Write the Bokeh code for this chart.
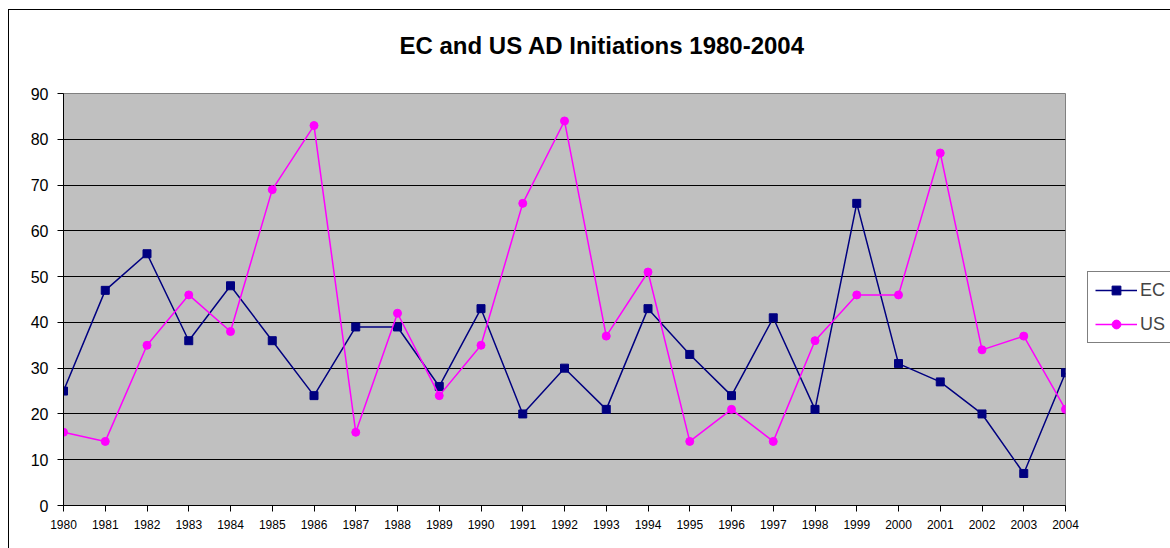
from bokeh.plotting import figure
from bokeh.models import Range1d, FixedTicker, Legend, LegendItem, Title
from bokeh.embed import file_html
from bokeh.resources import INLINE

years = list(range(1980, 2005))
ec = [25, 47, 55, 36, 48, 36, 24, 39, 39, 26, 43, 20, 30, 21, 43, 33, 24, 41, 21, 66, 31, 27, 20, 7, 29]
us = [16, 14, 35, 46, 38, 69, 83, 16, 42, 24, 35, 66, 84, 37, 51, 14, 21, 14, 36, 46, 46, 77, 34, 37, 21]
y_ticks = list(range(0, 100, 10))
title_text = "EC and US AD Initiations 1980-2004"

FONT = "Liberation Sans"

p = figure(width=1161, height=538, output_backend="svg", toolbar_location=None,
           x_range=Range1d(1980, 2004), y_range=Range1d(0, 90),
           min_border_left=54, min_border_right=105, min_border_top=83, min_border_bottom=43,
           background_fill_color="#C0C0C0", border_fill_color="white")
p.frame_width = 1002
p.frame_height = 412
p.styles = {"margin-left": "8px", "margin-top": "9px",
            "border-left": "1px solid black", "border-top": "1px solid black"}

p.title.text = ""

# a blank title next to the frame makes room below the visible one
spacer = Title(text=" ", text_font_size="1px", standoff=32)
p.add_layout(spacer, "above")
main_title = Title(text=title_text, text_font=FONT, text_font_style="bold",
                   text_font_size="24px", align="left", offset=336, standoff=0,
                   text_color="black")
p.add_layout(main_title, "above")

p.outline_line_color = "#808080"
p.outline_line_width = 1

p.xgrid.grid_line_color = None
p.ygrid.grid_line_color = "black"
p.ygrid.grid_line_width = 1

p.xaxis.ticker = FixedTicker(ticks=years)
p.yaxis.ticker = FixedTicker(ticks=y_ticks)
for ax in (p.xaxis, p.yaxis):
    ax.axis_line_color = "black"
    ax.major_tick_line_color = "black"
    ax.minor_tick_line_color = None
    ax.major_tick_in = 0
    ax.major_tick_out = 6
    ax.major_label_text_font = FONT
    ax.major_label_text_color = "black"
p.xaxis.major_label_text_font_size = "12px"
p.xaxis.major_label_standoff = 8
p.yaxis.major_label_text_font_size = "16px"
p.yaxis.major_label_standoff = 9

l1 = p.line(years, ec, line_color="#000080", line_width=1.5)
m1 = p.scatter(years, ec, marker="square", size=8, fill_color="#000080", line_color="#000080")
l2 = p.line(years, us, line_color="#FF00FF", line_width=1.5)
m2 = p.scatter(years, us, marker="circle", size=8, fill_color="#FF00FF", line_color="#FF00FF")

legend = Legend(items=[LegendItem(label="EC", renderers=[l1, m1]),
                       LegendItem(label="US", renderers=[l2, m2])],
                location=(22, 162), orientation="vertical",
                border_line_color="black", border_line_width=1,
                background_fill_color="white", background_fill_alpha=1,
                label_text_font=FONT, label_text_font_size="18px",
                glyph_width=42, glyph_height=22, label_height=22,
                label_standoff=3, padding=7, spacing=12, margin=0)
p.add_layout(legend, "right")

open("out.html", "w").write(file_html(p, INLINE))
